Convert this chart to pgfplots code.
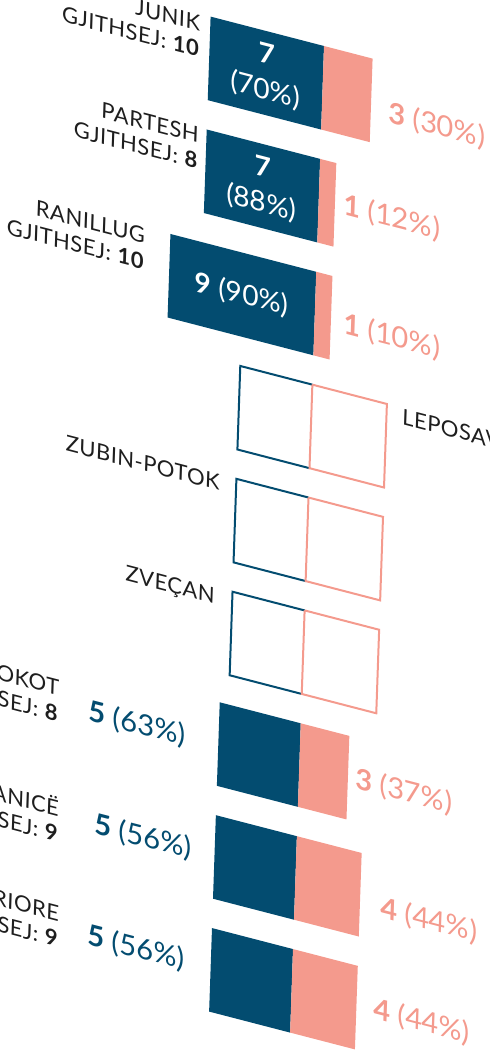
\documentclass[border=0pt]{standalone}
\usepackage{pgfplots}
\pgfplotsset{compat=1.18}
\usepackage{fontspec}
\setmainfont{Lato}
\newfontfamily\labfont[LetterSpace=2]{Lato}
\definecolor{cblue}{HTML}{034C70}
\definecolor{csalmon}{HTML}{F49A8D}
\definecolor{ctext}{HTML}{1E1E1E}
\begin{document}
\begin{tikzpicture}[
  sheared/.style={yslant=-0.259, xslant=0.0343, inner sep=0pt},
  lab/.style={sheared, anchor=east, align=right, font=\labfont\fontsize{11}{13}\selectfont, text=ctext},
  inval/.style={sheared, anchor=center, align=center, text=white, font=\fontsize{14}{18}\selectfont},
  sval/.style={sheared, anchor=west, text=csalmon, font=\fontsize{14.5}{17}\selectfont},
  bval/.style={sheared, anchor=east, text=cblue, font=\fontsize{14.5}{17}\selectfont},
]
\useasboundingbox (0,0) rectangle (245pt,-525.5pt);
\clip (0,0) rectangle (245pt,-525.5pt);
\begin{axis}[
  at={(162pt,-23pt)}, anchor=origin,
  x={(8.1pt,-2.1pt)}, y={(1.9375pt,56.44pt)},
  xmin=-16, xmax=8, ymin=-9, ymax=0.5,
  hide axis, clip=false, no markers,
]
% JUNIK: 7 / 3
\addplot[fill=cblue, draw=none] coordinates {(-7,0) (0,0) (0,-0.74) (-7,-0.74)};
\addplot[fill=csalmon, draw=none] coordinates {(0,0) (3,0) (3,-0.74) (0,-0.74)};
% PARTESH: 7 / 1
\addplot[fill=cblue, draw=none] coordinates {(-7,-1) (0,-1) (0,-1.74) (-7,-1.74)};
\addplot[fill=csalmon, draw=none] coordinates {(0,-1) (1,-1) (1,-1.74) (0,-1.74)};
% RANILLUG: 9 / 1
\addplot[fill=cblue, draw=none] coordinates {(-9,-2) (0,-2) (0,-2.74) (-9,-2.74)};
\addplot[fill=csalmon, draw=none] coordinates {(0,-2) (1,-2) (1,-2.74) (0,-2.74)};
% LEPOSAVIQ, ZUBIN-POTOK, ZVECAN: no data (outlines)
\addplot[draw=cblue, line width=1pt] coordinates {(0,-3) (-4.45,-3) (-4.45,-3.74) (0,-3.74)};
\addplot[draw=csalmon, line width=1pt] coordinates {(0,-3) (4.6,-3) (4.6,-3.74) (0,-3.74) (0,-3)};
\addplot[draw=cblue, line width=1pt] coordinates {(0,-4) (-4.45,-4) (-4.45,-4.74) (0,-4.74)};
\addplot[draw=csalmon, line width=1pt] coordinates {(0,-4) (4.6,-4) (4.6,-4.74) (0,-4.74) (0,-4)};
\addplot[draw=cblue, line width=1pt] coordinates {(0,-5) (-4.45,-5) (-4.45,-5.74) (0,-5.74)};
\addplot[draw=csalmon, line width=1pt] coordinates {(0,-5) (4.6,-5) (4.6,-5.74) (0,-5.74) (0,-5)};
% KLLOKOT: 5 / 3
\addplot[fill=cblue, draw=none] coordinates {(-5,-6) (0,-6) (0,-6.74) (-5,-6.74)};
\addplot[fill=csalmon, draw=none] coordinates {(0,-6) (3,-6) (3,-6.74) (0,-6.74)};
% GRACANICE: 5 / 4
\addplot[fill=cblue, draw=none] coordinates {(-5,-7) (0,-7) (0,-7.74) (-5,-7.74)};
\addplot[fill=csalmon, draw=none] coordinates {(0,-7) (4,-7) (4,-7.74) (0,-7.74)};
% MITROVICE VERIORE: 5 / 4
\addplot[fill=cblue, draw=none] coordinates {(-5,-8) (0,-8) (0,-8.74) (-5,-8.74)};
\addplot[fill=csalmon, draw=none] coordinates {(0,-8) (4,-8) (4,-8.74) (0,-8.74)};

% values inside
\node[inval] at (axis cs:-3.5,-0.37) {\textbf{7}\\(70\%)};
\node[inval] at (axis cs:-3.5,-1.37) {\textbf{7}\\(88\%)};
\node[inval] at (axis cs:-4.5,-2.37) {\textbf{9} (90\%)};
% salmon values
\node[sval] at (axis cs:4.06,-0.4425) {\textbf{3} (30\%)};
\node[sval] at (axis cs:1.5,-1.353) {\textbf{1} (12\%)};
\node[sval] at (axis cs:1.75,-2.397) {\textbf{1} (10\%)};
\node[sval] at (axis cs:3.44,-6.365) {\textbf{3} (37\%)};
\node[sval] at (axis cs:5.24,-7.44) {\textbf{4} (44\%)};
\node[sval] at (axis cs:5.02,-8.343) {\textbf{4} (44\%)};
% blue values outside
\node[bval] at (axis cs:-6.99,-6.38) {\textbf{5} (63\%)};
\node[bval] at (axis cs:-6.39,-7.359) {\textbf{5} (56\%)};
\node[bval] at (axis cs:-6.58,-8.349) {\textbf{5} (56\%)};
% row labels
\node[lab] at (axis cs:-7.6,-0.2) {JUNIK\\GJITHSEJ: \textbf{10}};
\node[lab] at (axis cs:-7.45,-1.184) {PARTESH\\GJITHSEJ: \textbf{8}};
\node[lab] at (axis cs:-10.53,-2.19) {RANILLUG\\GJITHSEJ: \textbf{10}};
\node[lab, anchor=west, align=left] at (axis cs:5.55,-3.088) {LEPOSAVIQ};
\node[lab] at (axis cs:-5.445,-4.073) {ZUBIN-POTOK};
\node[lab] at (axis cs:-5.51,-5.094) {ZVEÇAN};
\node[lab] at (axis cs:-14.84,-6.354) {KLLOKOT\\GJITHSEJ: \textbf{8}};
\node[lab] at (axis cs:-14.59,-7.398) {GRAÇANICË\\GJITHSEJ: \textbf{9}};
\node[lab] at (axis cs:-14.37,-8.32) {MITROVICË VERIORE\\GJITHSEJ: \textbf{9}};
\end{axis}
\end{tikzpicture}
\end{document}
